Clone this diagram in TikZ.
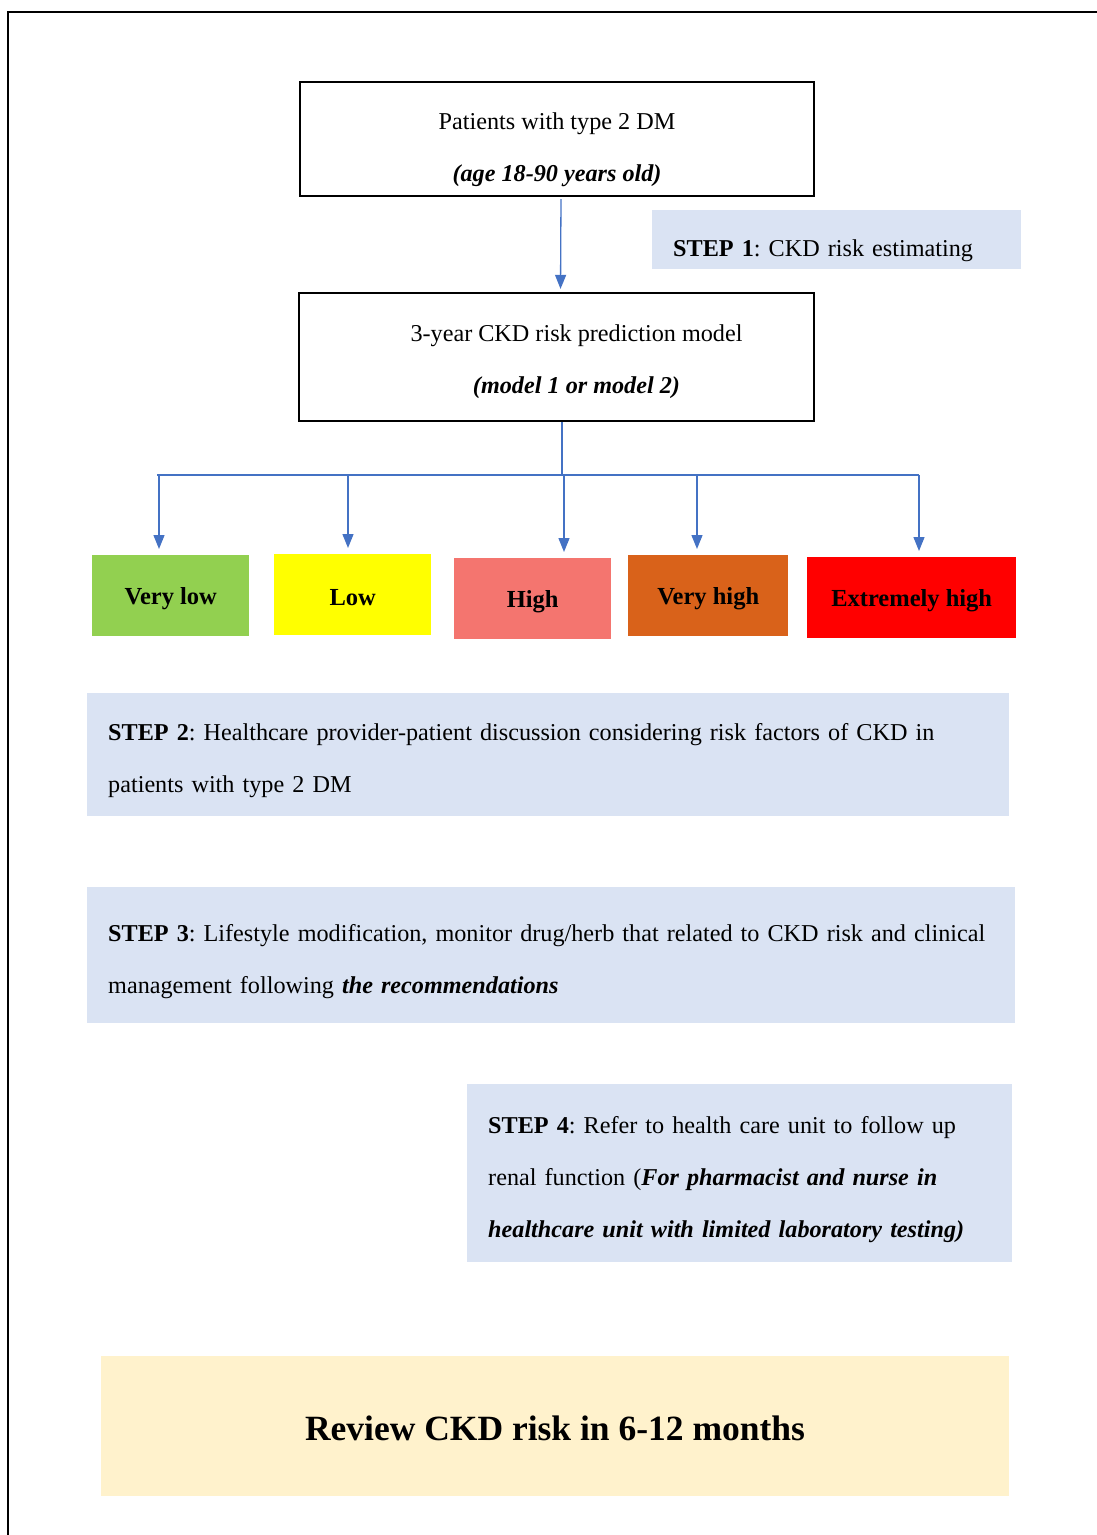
\documentclass[tikz,border=0pt]{standalone}
\usepackage{fontspec}
\setmainfont{Liberation Serif}
\usetikzlibrary{arrows.meta}
\definecolor{stepblue}{HTML}{DAE3F3}
\definecolor{cream}{HTML}{FFF2CC}
\definecolor{arrblue}{HTML}{4472C4}
\definecolor{vlgreen}{HTML}{92D050}
\definecolor{lowyellow}{HTML}{FFFF00}
\definecolor{highsalmon}{HTML}{F4756F}
\definecolor{vhorange}{HTML}{D9621A}
\definecolor{exred}{HTML}{FF0000}
\newcommand{\tgap}[1]{\rule{0pt}{#1}}
\frenchspacing
\hyphenpenalty=10000\relax
\begin{document}
\begin{tikzpicture}[x=1pt,y=-1pt,
  txt/.style={font=\fontsize{24.2}{52}\selectfont\frenchspacing},
  mainbox/.style={draw=black,line width=2.2pt,inner sep=0pt,align=center,txt},
  stepbox/.style={fill=stepblue,inner ysep=0pt,inner xsep=21pt,align=left,txt,anchor=north west},
  riskbox/.style={inner sep=0pt,anchor=north west,minimum width=157pt,minimum height=81pt,font=\fontsize{24.5}{30}\selectfont\bfseries},
  arr/.style={draw=arrblue,line width=1.3pt,-{Triangle[width=11pt,length=14pt]},shorten >=6pt},
  bus/.style={draw=arrblue,line width=1.3pt}]
\useasboundingbox (0,0) rectangle (1097,1535);
% frame
\draw[line width=2.2pt] (8,1535) -- (8,12) -- (1097,12);
% main boxes
\node[mainbox,minimum width=514pt,minimum height=114pt] (b1) at (557,139)
  {\tgap{39pt}Patients with type 2 DM\\\textbf{\textit{(age 18-90 years old)}}};
\node[mainbox,minimum width=515pt,minimum height=128pt] (b2) at (556.5,357)
  {\hspace*{40pt}\tgap{27pt}3-year CKD risk prediction model\\\hspace*{40pt}\textbf{\textit{(model 1 or model 2)}}};
% step 1
\node[stepbox,text width=327pt,minimum height=59pt] (s1) at (652,210)
  {\tgap{39pt}\textbf{STEP 1}: CKD risk estimating};
% arrow 1
\draw[arr,shorten >=3pt,shorten <=2pt] ([xshift=4pt]b1.south) -- ([xshift=4pt]b2.north);
% risk boxes
\node[riskbox,fill=vlgreen] (vl) at (92,555) {\tgap{23pt}Very low};
\node[riskbox,fill=lowyellow] (lo) at (274,554) {\tgap{21pt}Low};
\node[riskbox,fill=highsalmon] (hi) at (454,558) {\tgap{23pt}High};
\node[riskbox,fill=vhorange,minimum width=160pt] (vh) at (628,555) {\tgap{23pt}Very high};
\node[riskbox,fill=exred,minimum width=209pt] (ex) at (807,557) {\tgap{23pt}Extremely high};
% bus
\coordinate (jn) at (562,475);
\coordinate (bl) at (157,475);
\coordinate (br) at (919,475);
\coordinate (t1) at (159,475);
\coordinate (t2) at (348,475);
\coordinate (t3) at (564,475);
\coordinate (t4) at (697,475);
\coordinate (t5) at (919,475);
\draw[bus] (b2.south -| jn) -- (jn);
\draw[bus] (bl) -- (br);
\draw[arr] (t1) -- (t1 |- vl.north);
\draw[arr] (t2) -- (t2 |- lo.north);
\draw[arr] (t3) -- (t3 |- hi.north);
\draw[arr] (t4) -- (t4 |- vh.north);
\draw[arr] (t5) -- (t5 |- ex.north);
% steps 2-4
\node[stepbox,text width=880pt,minimum height=123pt] (s2) at (87,693)
  {\tgap{29pt}\textbf{STEP 2}: Healthcare provider-patient discussion considering risk factors of CKD in\\patients with type 2 DM};
\node[stepbox,text width=886pt,minimum height=136pt] (s3) at (87,887)
  {\tgap{29pt}\textbf{STEP 3}: Lifestyle modification, monitor drug/herb that related to CKD risk and clinical\\management following \textbf{\textit{the recommendations}}};
\node[stepbox,text width=503pt,minimum height=178pt] (s4) at (467,1084)
  {\tgap{29pt}\textbf{STEP 4}: Refer to health care unit to follow up\\renal function (\textbf{\textit{For pharmacist and nurse in}}\\\textbf{\textit{healthcare unit with limited laboratory testing)}}};
% review
\node[fill=cream,minimum width=908pt,minimum height=140pt,inner sep=0pt,font=\fontsize{35.5}{40}\selectfont\bfseries] (rv) at (555,1426)
  {\tgap{30pt}Review CKD risk in 6-12 months};
\end{tikzpicture}
\end{document}
